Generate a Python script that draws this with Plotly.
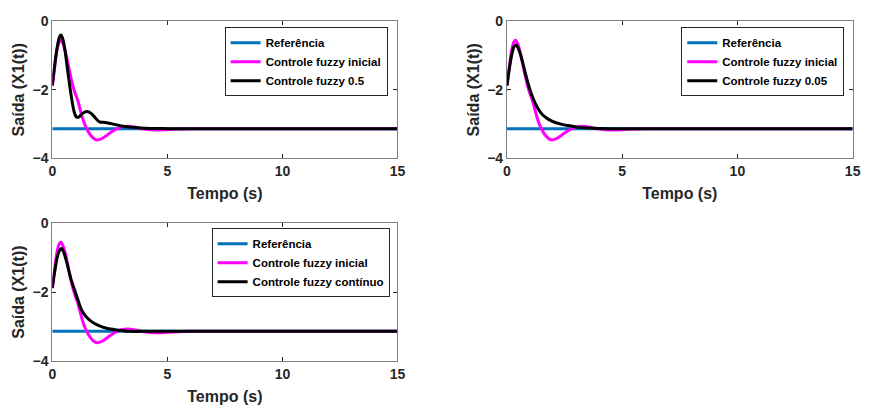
import plotly.graph_objects as go
import math

# ---- data ----
ref_value = -math.pi
t_ref = [0, 15]

t_init = [0, 0.1, 0.2, 0.3, 0.38, 0.5, 0.6, 0.7, 0.8, 0.9, 1.0, 1.1, 1.2, 1.3, 1.4, 1.5, 1.6, 1.7, 1.8,
          1.95, 2.1, 2.3, 2.5, 2.7, 2.85, 3.0, 3.3, 3.6, 4.0, 4.5, 5.0, 5.5, 6.0, 15]
y_init = [-1.88, -1.35, -0.85, -0.6, -0.55, -0.72, -0.98, -1.3, -1.62, -1.9, -2.12, -2.3, -2.55, -2.8, -3.0,
          -3.15, -3.27, -3.36, -3.43, -3.47, -3.45, -3.37, -3.27, -3.18, -3.13, -3.09, -3.07, -3.1, -3.15,
          -3.18, -3.17, -3.15, -3.14, -3.14]

t_f05 = [0, 0.1, 0.2, 0.3, 0.37, 0.45, 0.55, 0.65, 0.75, 0.85, 0.95, 1.05, 1.15, 1.3, 1.5, 1.7, 1.9, 2.05,
         2.3, 2.6, 3.0, 3.5, 4.0, 5.0, 15]
y_f05 = [-1.88, -1.3, -0.8, -0.48, -0.4, -0.5, -0.85, -1.35, -1.85, -2.3, -2.65, -2.8, -2.8, -2.7, -2.64,
         -2.7, -2.85, -2.94, -2.96, -3.0, -3.06, -3.1, -3.13, -3.14, -3.14]

t_f005 = [0, 0.1, 0.2, 0.3, 0.4, 0.5, 0.6, 0.7, 0.8, 0.9, 1.0, 1.15, 1.3, 1.5, 1.7, 1.95, 2.3, 2.65, 3.0,
          3.5, 4.0, 5.0, 15]
y_f005 = [-1.88, -1.4, -1.0, -0.75, -0.69, -0.8, -1.0, -1.25, -1.52, -1.78, -2.0, -2.28, -2.5, -2.7, -2.82,
          -2.92, -3.0, -3.05, -3.09, -3.12, -3.135, -3.14, -3.14]

t_fcont = [0, 0.1, 0.2, 0.3, 0.4, 0.5, 0.6, 0.7, 0.8, 0.97, 1.1, 1.26, 1.45, 1.69, 2.0, 2.4, 2.8, 3.4,
           4.0, 5.0, 15]
y_fcont = [-1.88, -1.42, -1.03, -0.8, -0.73, -0.85, -1.07, -1.33, -1.6, -1.94, -2.2, -2.5, -2.7, -2.85,
           -2.97, -3.06, -3.1, -3.14, -3.14, -3.14, -3.14]

panels = [
    ("Controle fuzzy 0.5", t_f05, y_f05),
    ("Controle fuzzy 0.05", t_f005, y_f005),
    ("Controle fuzzy contínuo", t_fcont, y_fcont),
]

x_ticks = [0, 5, 10, 15]
y_ticks = [-4, -2, 0]

# ---- layout geometry ----
W, H = 870, 416
boxes = [  # (left, right, top, bottom) in px
    (49, 399, 14, 156),
    (510, 860.5, 14, 156),
    (49, 399, 224, 367),
]
legend_pos = [(389, 20), (852, 20), (391, 229)]  # right edge, top

FONT = "Liberation Sans, Arial, sans-serif"
TXT = "#262626"

fig = go.Figure()
layout = dict(
    width=W, height=H, margin=dict(l=0, r=0, t=0, b=0),
    paper_bgcolor="white", plot_bgcolor="white",
    font=dict(family=FONT, color=TXT, size=14, weight="bold"),
    showlegend=True,
)

for i, (name, tt, yy) in enumerate(panels):
    k = "" if i == 0 else str(i + 1)
    xa, ya = "x" + k, "y" + k
    lg = "legend" + k
    fig.add_trace(go.Scatter(x=t_ref, y=[ref_value] * 2, mode="lines", name="Referência",
                             line=dict(color="#0072BD", width=3), xaxis=xa, yaxis=ya, legend=lg))
    fig.add_trace(go.Scatter(x=t_init, y=y_init, mode="lines", name="Controle fuzzy inicial",
                             line=dict(color="#FF00FF", width=3, shape="spline", smoothing=0.8),
                             xaxis=xa, yaxis=ya, legend=lg))
    fig.add_trace(go.Scatter(x=tt, y=yy, mode="lines", name=name,
                             line=dict(color="black", width=3, shape="spline", smoothing=0.8),
                             xaxis=xa, yaxis=ya, legend=lg))
    l, r, tp, bt = boxes[i]
    axcommon = dict(showline=True, linecolor="#7f7f7f", linewidth=1, mirror="ticks", ticks="inside",
                    ticklen=4, tickcolor="#262626", showgrid=False, zeroline=False,
                    tickfont=dict(family=FONT, size=14, color=TXT, weight="bold"))
    layout["xaxis" + k] = dict(axcommon, domain=[l / W, r / W], range=[0, 15], tickvals=x_ticks,
                               anchor=ya,
                               title=dict(text="Tempo (s)", standoff=10,
                                          font=dict(family=FONT, size=16, color=TXT, weight="bold")))
    layout["yaxis" + k] = dict(axcommon, domain=[1 - bt / H, 1 - tp / H], range=[-4, 0], tickvals=y_ticks,
                               anchor=xa,
                               title=dict(text="Saída (X1(t))", standoff=3,
                                          font=dict(family=FONT, size=16, color=TXT, weight="bold")))
    lx, ly = legend_pos[i]
    layout[lg] = dict(x=lx / W, y=1 - ly / H, xanchor="right", yanchor="top",
                      bgcolor="white", bordercolor="#262626", borderwidth=1,
                      font=dict(family=FONT, size=11.5, color="black", weight="bold"),
                      tracegroupgap=0, itemwidth=30)

fig.update_layout(**layout)
fig.write_html("out.html")
